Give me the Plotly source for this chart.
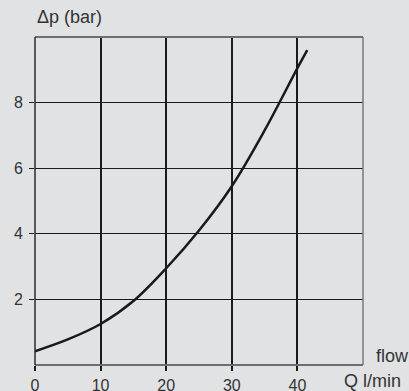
import plotly.graph_objects as go

flow_q = [0, 5, 10, 15, 20, 25, 30, 35, 40, 41.5]
delta_p = [0.42, 0.78, 1.25, 1.95, 2.95, 4.1, 5.45, 7.15, 9.05, 9.6]
x_ticks = [0, 10, 20, 30, 40]
y_ticks = [2, 4, 6, 8]

BG = "#e1e2e4"
TICK_FONT = dict(family="Liberation Sans, Arial, sans-serif", size=16, color="#333333")
LABEL_FONT = dict(family="Liberation Sans, Arial, sans-serif", size=18, color="#333333")

fig = go.Figure()
fig.add_trace(go.Scatter(x=flow_q, y=delta_p, mode="lines",
                         line=dict(color="#1a1a1a", width=2.5, shape="spline", smoothing=1.0),
                         hoverinfo="skip", showlegend=False))

fig.update_layout(
    width=409, height=391,
    margin=dict(l=35, r=46, t=37, b=26),
    paper_bgcolor=BG, plot_bgcolor=BG,
    font=TICK_FONT,
    showlegend=False,
    xaxis=dict(range=[0, 50], tickvals=x_ticks, ticktext=[str(v) for v in x_ticks],
               showgrid=True, gridcolor="#1a1a1a", gridwidth=2,
               ticks="outside", ticklen=5, tickwidth=2, tickcolor="#1a1a1a",
               tickfont=TICK_FONT, ticklabelstandoff=1, automargin=False,
               showline=False, zeroline=False, fixedrange=True),
    yaxis=dict(range=[0, 10], tickvals=y_ticks, ticktext=[str(v) for v in y_ticks],
               showgrid=True, gridcolor="#1a1a1a", gridwidth=1,
               ticks="outside", ticklen=5, tickwidth=1, tickcolor="#1a1a1a",
               tickfont=TICK_FONT, ticklabelstandoff=3, automargin=False,
               showline=False, zeroline=False, fixedrange=True),
    shapes=[
        dict(type="line", xref="x domain", yref="y domain", x0=0, x1=1, y0=1, y1=1,
             line=dict(color="#6e6e6e", width=2)),
        dict(type="line", xref="x domain", yref="y domain", x0=1, x1=1, y0=0, y1=1,
             line=dict(color="#7a7a7a", width=1.5)),
        dict(type="line", xref="x domain", yref="y domain", x0=0, x1=1, y0=0, y1=0,
             line=dict(color="#6e6e6e", width=2)),
        dict(type="line", xref="x domain", yref="y domain", x0=0, x1=0, y0=0, y1=1,
             line=dict(color="#2a2a2a", width=1.5)),
    ],
    annotations=[
        dict(text="Δp (bar)", xref="paper", yref="paper", x=0, y=1, xanchor="left",
             yanchor="middle", xshift=0, yshift=20, showarrow=False, font=LABEL_FONT),
        dict(text="flow", xref="paper", yref="paper", x=1, y=0, xanchor="left",
             yanchor="middle", xshift=11, yshift=9, showarrow=False, font=LABEL_FONT),
        dict(text="Q l/min", xref="paper", yref="paper", x=1, y=0, xanchor="left",
             yanchor="middle", xshift=-21, yshift=-16, showarrow=False, font=LABEL_FONT),
    ],
)

fig.write_html("out.html", config={"displayModeBar": False},
               post_script="document.body.style.margin='0';document.body.style.overflow='hidden';")
